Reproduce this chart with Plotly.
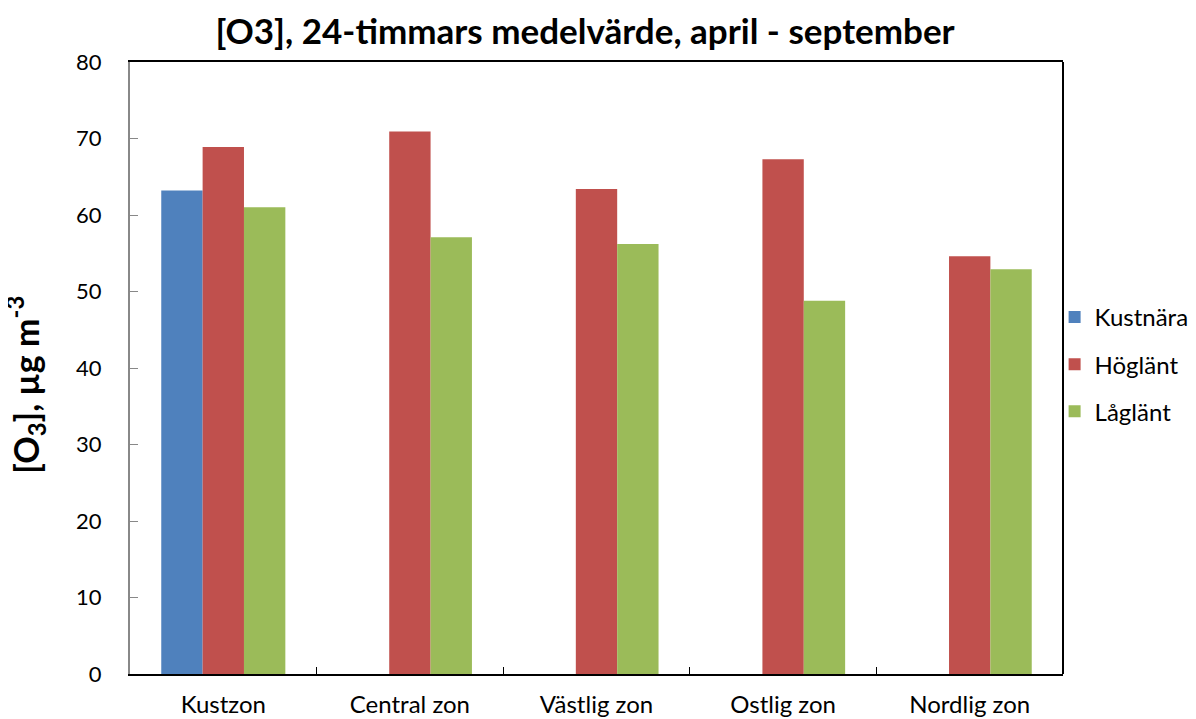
import plotly.graph_objects as go

categories = ["Kustzon", "Central zon", "Västlig zon", "Ostlig zon", "Nordlig zon"]
kustnara = [63.2, None, None, None, None]
hoglant = [68.9, 70.9, 63.4, 67.3, 54.6]
laglant = [61.0, 57.1, 56.2, 48.8, 52.9]
y_ticks = [0, 10, 20, 30, 40, 50, 60, 70, 80]

FONT = "Lato, 'Open Sans', sans-serif"
W, H = 1210, 719

fig = go.Figure()
fig.add_trace(go.Bar(name="Kustnära", x=categories, y=kustnara, marker_color="#4F81BD",
                     marker_line_width=0, legendgroup="a"))
fig.add_trace(go.Bar(name="Högländ".replace("d", "t"), x=categories, y=hoglant, marker_color="#C0504D",
                     marker_line_width=0, legendgroup="b"))
fig.add_trace(go.Bar(name="Lågländ".replace("d", "t"), x=categories, y=laglant, marker_color="#9BBB59",
                     marker_line_width=0, legendgroup="c"))

fig.update_layout(
    width=W, height=H,
    margin=dict(l=122, r=W - 1055, t=54, b=H - 666),
    paper_bgcolor="white", plot_bgcolor="white",
    barmode="group", bargap=0.335, bargroupgap=0,
    font=dict(family=FONT, color="black", size=24),
    title=dict(text="<b>[O3], 24-timmars medelvärde, april - september</b>",
               x=577 / W, xanchor="center", xref="container",
               y=1 - 24 / H, yanchor="middle", yref="container",
               font=dict(size=35, family=FONT)),
    showlegend=True,
    legend=dict(x=0.991, xanchor="left", y=0.506, yanchor="middle",
                font=dict(size=24), tracegroupgap=13, itemsizing="constant",
                bgcolor="rgba(0,0,0,0)"),
    xaxis=dict(showline=True, linecolor="black", linewidth=2, mirror=True,
               ticks="inside", ticklen=7, tickcolor="black", tickson="boundaries",
               tickfont=dict(size=24), showgrid=False, automargin=False,
               ticklabelstandoff=8),
    yaxis=dict(range=[0, 80], tickvals=y_ticks, showline=True, linecolor="#888888",
               linewidth=2, ticks="inside", ticklen=8, tickcolor="#888888",
               showgrid=False, zeroline=False, tickfont=dict(size=22),
               automargin=False, ticklabelstandoff=22),
)
fig.add_annotation(text="<b>[O<sub>3</sub>], µg m<sup>-3</sup></b>", textangle=-90,
                   xref="paper", yref="paper", x=-0.112, y=0.472, xanchor="center",
                   yanchor="middle", showarrow=False, font=dict(size=34, family=FONT))
fig.add_shape(type="line", xref="paper", yref="paper", x0=1, x1=1, y0=0, y1=1,
              line=dict(color="black", width=2))
fig.write_html("out.html")
